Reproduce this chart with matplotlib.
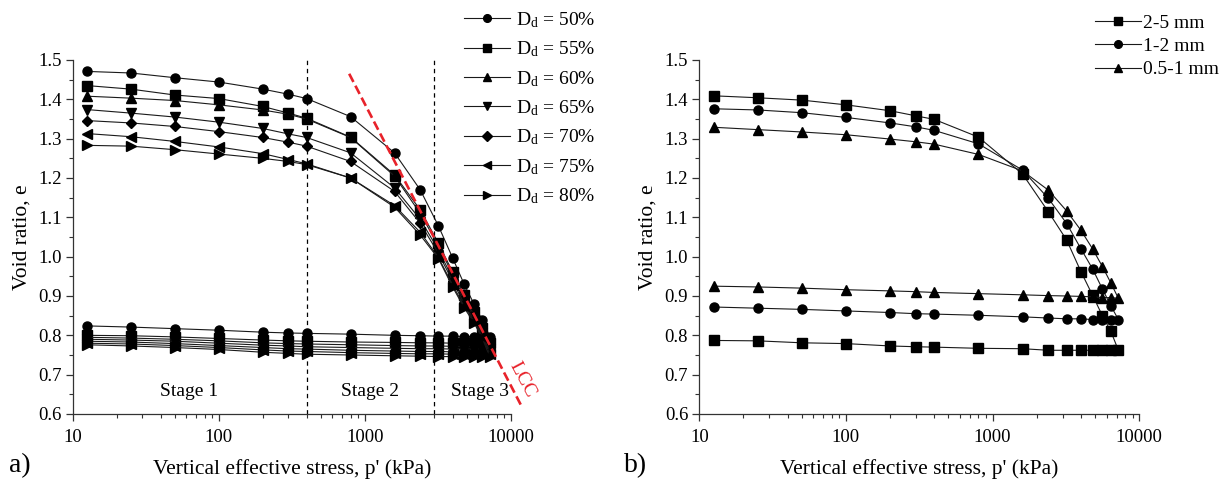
import matplotlib
matplotlib.use("Agg")
import matplotlib.pyplot as plt
from matplotlib import ticker

plt.rcParams['font.family'] = ['Liberation Serif', 'DejaVu Serif']
plt.rcParams['mathtext.fontset'] = 'custom'
plt.rcParams['mathtext.rm'] = 'Liberation Serif'
plt.rcParams['mathtext.it'] = 'Liberation Serif:italic'

# ---------------- data ----------------
stress = [12.5, 25, 50, 100, 200, 300, 400, 800, 1600, 2400, 3200, 4000, 4800, 5600, 6400, 7200]

# panel a) loading branches (aligned with stress)
load_50 = [1.471, 1.467, 1.455, 1.444, 1.426, 1.413, 1.402, 1.356, 1.264, 1.170, 1.078, 0.997, 0.930, 0.880, 0.838, 0.797]
load_55 = [1.435, 1.426, 1.411, 1.402, 1.382, 1.365, 1.352, 1.304, 1.208, 1.119, 1.034, 0.961, 0.902, 0.860, 0.818, 0.780]
load_60 = [1.408, 1.403, 1.397, 1.386, 1.373, 1.362, 1.350, 1.303, 1.205, 1.110, 1.028, 0.955, 0.895, 0.853, 0.812, 0.772]
load_65 = [1.374, 1.365, 1.355, 1.342, 1.326, 1.312, 1.303, 1.264, 1.175, 1.095, 1.017, 0.945, 0.888, 0.847, 0.806, 0.765]
load_70 = [1.346, 1.340, 1.331, 1.318, 1.303, 1.291, 1.281, 1.242, 1.166, 1.085, 1.008, 0.938, 0.880, 0.840, 0.800, 0.758]
load_75 = [1.313, 1.305, 1.293, 1.279, 1.262, 1.247, 1.236, 1.200, 1.130, 1.062, 0.998, 0.928, 0.874, 0.836, 0.796, 0.752]
load_80 = [1.283, 1.281, 1.272, 1.261, 1.250, 1.242, 1.234, 1.200, 1.126, 1.055, 0.995, 0.923, 0.870, 0.832, 0.792, 0.745]

# panel a) unloading branches (aligned with stress[:-1], drawn from 6400 back to 12.5)
unload_50 = [0.824, 0.821, 0.817, 0.813, 0.808, 0.806, 0.805, 0.803, 0.800, 0.799, 0.798, 0.798, 0.797, 0.797, 0.797]
unload_55 = [0.800, 0.799, 0.796, 0.792, 0.788, 0.786, 0.785, 0.783, 0.782, 0.781, 0.781, 0.780, 0.780, 0.780, 0.780]
unload_60 = [0.795, 0.793, 0.790, 0.786, 0.781, 0.779, 0.778, 0.776, 0.774, 0.773, 0.773, 0.772, 0.772, 0.772, 0.772]
unload_65 = [0.790, 0.788, 0.785, 0.780, 0.775, 0.773, 0.771, 0.769, 0.767, 0.766, 0.766, 0.765, 0.765, 0.765, 0.765]
unload_70 = [0.785, 0.783, 0.779, 0.774, 0.769, 0.766, 0.765, 0.762, 0.760, 0.759, 0.759, 0.758, 0.758, 0.758, 0.758]
unload_75 = [0.780, 0.778, 0.774, 0.769, 0.763, 0.760, 0.759, 0.756, 0.754, 0.753, 0.753, 0.752, 0.752, 0.752, 0.752]
unload_80 = [0.776, 0.773, 0.769, 0.764, 0.757, 0.754, 0.752, 0.750, 0.748, 0.747, 0.746, 0.746, 0.745, 0.745, 0.745]

density_labels = ['50%', '55%', '60%', '65%', '70%', '75%', '80%']

# panel b) particle size fractions
load_2_5 = [1.409, 1.404, 1.398, 1.386, 1.371, 1.358, 1.349, 1.304, 1.210, 1.114, 1.042, 0.962, 0.902, 0.850, 0.810, 0.762]
unload_2_5 = [0.787, 0.786, 0.781, 0.779, 0.773, 0.771, 0.770, 0.767, 0.766, 0.762, 0.762, 0.762, 0.762, 0.762, 0.762]
load_1_2 = [1.376, 1.373, 1.366, 1.354, 1.340, 1.330, 1.321, 1.287, 1.220, 1.148, 1.084, 1.020, 0.969, 0.918, 0.875, 0.840]
unload_1_2 = [0.872, 0.869, 0.866, 0.862, 0.858, 0.855, 0.854, 0.851, 0.847, 0.844, 0.842, 0.842, 0.840, 0.840, 0.840]
load_05_1 = [1.329, 1.323, 1.317, 1.310, 1.299, 1.292, 1.286, 1.260, 1.218, 1.169, 1.116, 1.067, 1.020, 0.975, 0.933, 0.894]
unload_05_1 = [0.925, 0.923, 0.920, 0.916, 0.913, 0.911, 0.909, 0.906, 0.903, 0.901, 0.900, 0.899, 0.898, 0.896, 0.896]
size_labels = ['2-5 mm', '1-2 mm', '0.5-1 mm']

stage_bounds = [400, 3000]
stage_labels = ['Stage 1', 'Stage 2', 'Stage 3']
stage_x = [63, 1080, 6200]
lcc_p = [783, 11970]
lcc_e = [1.465, 0.617]

# ---------------- figure ----------------
W, H = 1231, 488
fig = plt.figure(figsize=(W / 100, H / 100), dpi=100)

def frac_x(px):
    return px / W

def frac_y(py):
    return 1 - py / H

axA = fig.add_axes([frac_x(72.7), frac_y(414), (510.7 - 72.7) / W, (414 - 60) / H])
axB = fig.add_axes([frac_x(699.3), frac_y(414), (1139.3 - 699.3) / W, (414 - 60) / H])

line_kw = dict(color='#1a1a1a', lw=0.8, markersize=6.5, mfc='black', mec='black')

def full_path(load, unload):
    xs = list(stress) + list(stress[:-1])[::-1]
    ys = list(load) + list(unload)[::-1]
    return xs, ys

loads_a = [load_50, load_55, load_60, load_65, load_70, load_75, load_80]
unloads_a = [unload_50, unload_55, unload_60, unload_65, unload_70, unload_75, unload_80]
markers_a = ['o', 's', '^', 'v', 'D', '<', '>']
handles_a = []
for ld, ul, mk, lab in zip(loads_a, unloads_a, markers_a, density_labels):
    xs, ys = full_path(ld, ul)
    ms = 5.5 if mk == 'D' else 6.5
    h, = axA.plot(xs, ys, marker=mk, label=r'$\mathrm{D_d}$ = ' + lab,
                  **{**line_kw, 'markersize': ms})
    handles_a.append(h)

for xb in stage_bounds:
    axA.plot([xb, xb], [0.6, 1.5], color='black', lw=0.9, ls=(0, (3.5, 3)))

axA.plot(lcc_p, lcc_e, color='#e8222a', lw=1.9, ls=(0, (3.5, 1.6)), clip_on=False, zorder=5)
axA.text(12000, 0.688, 'LCC', color='#e8222a', fontsize=14, rotation=-62,
         ha='center', va='center', rotation_mode='anchor')

for sx, sl in zip(stage_x, stage_labels):
    axA.text(sx, 0.656, sl, fontsize=14, ha='center', va='center')

loads_b = [load_2_5, load_1_2, load_05_1]
unloads_b = [unload_2_5, unload_1_2, unload_05_1]
markers_b = ['s', 'o', '^']
handles_b = []
for ld, ul, mk, lab in zip(loads_b, unloads_b, markers_b, size_labels):
    xs, ys = full_path(ld, ul)
    h, = axB.plot(xs, ys, marker=mk, label=lab, **line_kw)
    handles_b.append(h)

for ax in (axA, axB):
    ax.set_xscale('log')
    ax.set_xlim(10, 10000)
    ax.set_ylim(0.6, 1.5)
    ax.spines['top'].set_visible(False)
    ax.spines['right'].set_visible(False)
    for s in ('left', 'bottom'):
        ax.spines[s].set_linewidth(0.9)
        ax.spines[s].set_color('#333333')
    ax.xaxis.set_major_locator(ticker.FixedLocator([10, 100, 1000, 10000]))
    ax.xaxis.set_major_formatter(ticker.FuncFormatter(lambda v, _: f'{v:g}'))
    ax.xaxis.set_minor_locator(ticker.LogLocator(base=10, subs=[2, 3, 4, 5, 6, 7, 8, 9]))
    ax.xaxis.set_minor_formatter(ticker.NullFormatter())
    ax.yaxis.set_major_locator(ticker.MultipleLocator(0.1))
    ax.yaxis.set_minor_locator(ticker.MultipleLocator(0.05))
    ax.yaxis.set_major_formatter(ticker.FormatStrFormatter('%.1f'))
    ax.tick_params(which='major', direction='out', length=5, width=0.9, labelsize=13.5,
                   color='#333333')
    ax.tick_params(axis='x', which='major', pad=6)
    ax.tick_params(axis='y', which='major', pad=3)
    ax.tick_params(which='minor', direction='out', length=3, width=0.8, color='#333333')
    ax.set_xlabel("Vertical effective stress, p' (kPa)", fontsize=15.5, labelpad=9)
    ax.set_ylabel('Void ratio, e', fontsize=15.5, labelpad=5)

fig.legend(handles=handles_a, loc='upper left',
           bbox_to_anchor=(frac_x(464), frac_y(10)), frameon=False,
           fontsize=14, handlelength=2.35, handletextpad=0.3, labelspacing=0.5,
           borderpad=0, borderaxespad=0, markerscale=0.85)
fig.legend(handles=handles_b, loc='upper left',
           bbox_to_anchor=(frac_x(1095), frac_y(14)), frameon=False,
           fontsize=14, handlelength=2.35, handletextpad=0.12, labelspacing=0.3,
           borderpad=0, borderaxespad=0, markerscale=0.85)

fig.text(frac_x(20), frac_y(466), 'a)', fontsize=20, ha='center', va='center')
fig.text(frac_x(636), frac_y(466), 'b)', fontsize=20, ha='center', va='center')

fig.savefig('out.png', dpi=100)
